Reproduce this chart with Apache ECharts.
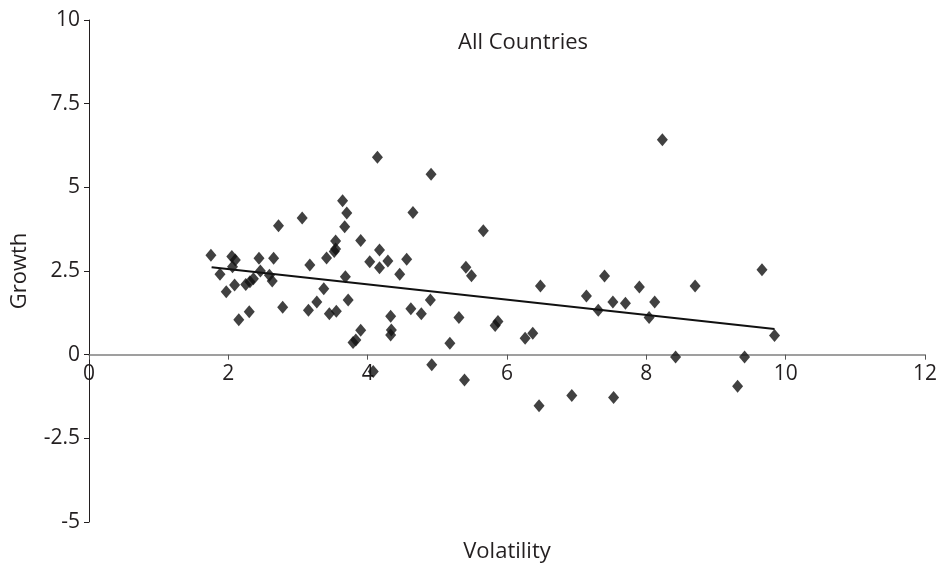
<!DOCTYPE html>
<html>
<head>
<meta charset="utf-8">
<script src="https://cdn.jsdelivr.net/npm/echarts@6/dist/echarts.min.js"></script>
<style>html,body{margin:0;padding:0;background:#fff;}#c{width:940px;height:568px;}</style>
</head>
<body>
<div id="c"></div>
<script>
var volatility = [1.75,1.88,1.97,2.05,2.10,2.06,2.09,2.15,2.25,2.30,2.31,2.36,2.44,2.46,2.59,2.63,2.65,2.72,2.78,3.06,3.17,3.15,3.27,3.37,3.41,3.45,3.52,3.54,3.54,3.55,3.64,3.70,3.67,3.68,3.72,3.90,3.90,3.83,3.79,4.03,4.14,4.17,4.17,4.29,4.56,4.46,4.91,4.65,5.66,5.41,5.49,6.48,7.14,7.40,7.31,7.52,7.70,7.90,8.12,8.04,4.90,4.62,4.77,4.33,4.34,4.33,5.31,5.18,5.83,5.87,6.26,6.37,4.92,4.08,5.39,6.46,6.93,7.53,8.23,9.66,8.70,9.84,8.42,9.41,9.31];
var growth = [2.97,2.40,1.88,2.93,2.83,2.63,2.08,1.04,2.10,1.28,2.18,2.27,2.88,2.50,2.37,2.20,2.88,3.85,1.42,4.08,2.68,1.33,1.57,1.97,2.89,1.22,3.08,3.16,3.40,1.30,4.60,4.23,3.82,2.33,1.63,3.41,0.73,0.44,0.36,2.78,5.90,3.13,2.60,2.80,2.85,2.40,5.39,4.25,3.70,2.61,2.36,2.05,1.75,2.35,1.33,1.57,1.54,2.02,1.57,1.11,1.63,1.37,1.22,1.15,0.74,0.59,1.11,0.34,0.87,0.99,0.49,0.64,-0.30,-0.50,-0.76,-1.53,-1.22,-1.28,6.42,2.54,2.05,0.57,-0.07,-0.07,-0.94];
var trendX = [1.76, 9.84];
var trendY = [2.61, 0.77];
var xTicks = [0, 2, 4, 6, 8, 10, 12];
var yTicks = [-5, -2.5, 0, 2.5, 5, 7.5, 10];

var pts = volatility.map(function (v, i) { return [v, growth[i]]; });
var trend = trendX.map(function (v, i) { return [v, trendY[i]]; });
var font = 'Open Sans';
var txt = '#231f20';
var gridTop = 20, gridBottom = 46, H = 568;
var yMin = yTicks[0], yMax = yTicks[yTicks.length - 1];
// move x axis up to y = 0 (offset relative to the bottom edge)
var plotH = H - gridTop - gridBottom;
var zeroOffset = -plotH * (0 - yMin) / (yMax - yMin);

var chart = echarts.init(document.getElementById('c'), null, {renderer: 'canvas'});
chart.setOption({
  animation: false,
  backgroundColor: '#ffffff',
  textStyle: {fontFamily: font},
  title: {
    text: 'All Countries',
    left: 453, top: 27,
    textStyle: {fontFamily: font, fontSize: 22, fontWeight: 'normal', color: txt}
  },
  grid: {left: 89, right: 15, top: gridTop, bottom: gridBottom, containLabel: false, outerBoundsMode: 'none'},
  xAxis: {
    type: 'value', min: xTicks[0], max: xTicks[xTicks.length - 1], interval: 2,
    offset: zeroOffset,
    name: 'Volatility', nameLocation: 'middle', nameGap: 186,
    nameTextStyle: {fontFamily: font, fontSize: 22, color: txt},
    axisLine: {onZero: false, lineStyle: {color: '#808080', width: 1.5}},
    axisTick: {show: true, inside: false, length: 5, lineStyle: {color: '#555'}},
    axisLabel: {fontFamily: font, fontSize: 21, color: txt, margin: 9},
    splitLine: {show: false}
  },
  yAxis: {
    type: 'value', min: yMin, max: yMax, interval: 2.5,
    name: 'Growth', nameLocation: 'middle', nameGap: 58,
    nameTextStyle: {fontFamily: font, fontSize: 22, color: txt},
    axisLine: {show: true, onZero: false, lineStyle: {color: '#231f20', width: 1}},
    axisTick: {show: true, inside: false, length: 5, lineStyle: {color: '#231f20'}},
    axisLabel: {fontFamily: font, fontSize: 21, color: txt, margin: 9},
    splitLine: {show: false}
  },
  series: [
    {
      type: 'scatter', data: pts, symbol: 'diamond', symbolSize: [11, 13],
      itemStyle: {color: '#111'}, z: 3
    },
    {
      type: 'line', data: trend, symbol: 'none', showSymbol: false,
      lineStyle: {color: '#111', width: 2}, z: 4
    }
  ]
});
</script>
</body>
</html>
